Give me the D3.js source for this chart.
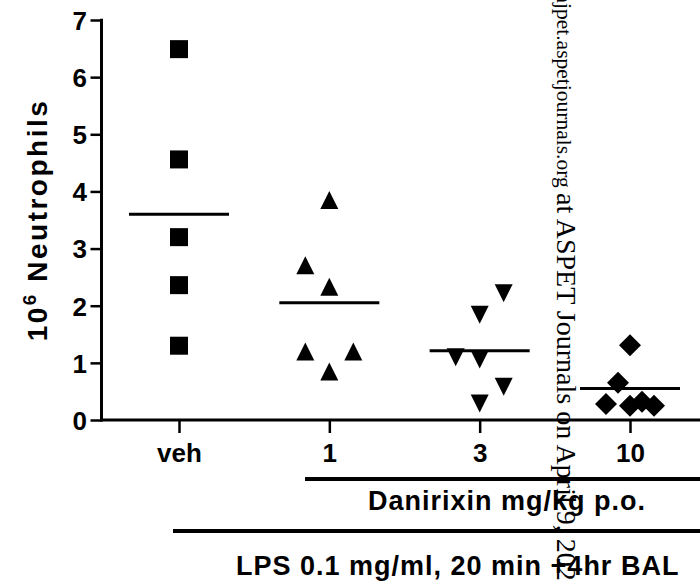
<!DOCTYPE html>
<html><head><meta charset="utf-8">
<script src="https://cdn.jsdelivr.net/npm/d3@7"></script>
<style>
html,body{margin:0;padding:0;background:#fff;}
svg{display:block;}
text{font-family:"Liberation Sans",Arial,sans-serif;font-weight:bold;fill:#000;}
</style></head>
<body>
<script>
const categories = ["veh", "1", "3", "10"];
const vehValues = [6.49, 4.56, 3.20, 2.36, 1.30];
const dose1Values = [3.85, 2.71, 2.33, 1.20, 1.20, 0.85];
const dose3Values = [2.22, 1.84, 1.10, 1.06, 0.58, 0.29];
const dose10Values = [1.31, 0.65, 0.28, 0.25, 0.32, 0.25];
const vehJitter = [0, 0, 0, 0, 0];
const dose1Jitter = [0, -1, 0, -1, 1, 0];
const dose3Jitter = [1, 0, -1, 0, 1, 0];
const dose10Jitter = [0, -0.5, -1, 0, 0.5, 1];
const groupMeans = [3.60, 2.05, 1.21, 0.55];
const yTicks = [0, 1, 2, 3, 4, 5, 6, 7];
const yLabel = "Neutrophils";
const doseLabel = "Danirixin mg/kg p.o.";
const lpsLabel = "LPS 0.1 mg/ml, 20 min +4hr BAL";
const watermarkLead = "Downloaded from ";
const watermarkSite = "jpet.aspetjournals.org ";
const watermarkTail = "at ASPET Journals on April 9, 2024";

const groups = [
  {cat: "veh", values: vehValues, jitter: vehJitter, shape: "square"},
  {cat: "1", values: dose1Values, jitter: dose1Jitter, shape: "up"},
  {cat: "3", values: dose3Values, jitter: dose3Jitter, shape: "down"},
  {cat: "10", values: dose10Values, jitter: dose10Jitter, shape: "diamond"}
];

const W = 700, H = 581;
const axX = 101.5, axY = 420;
const svg = d3.select("body").append("svg").attr("width", W).attr("height", H);

const y = d3.scaleLinear().domain([0, 7]).range([axY, 20]);
const x = d3.scalePoint().domain(categories).range([179, 630]);
const jit = 24;

// axes
const yAxis = svg.append("g").attr("transform", `translate(${axX},0)`)
  .call(d3.axisLeft(y).tickValues(yTicks).tickSize(11).tickSizeOuter(0).tickFormat(d3.format("d")));
yAxis.select(".domain").remove();
yAxis.selectAll(".tick line").attr("stroke", "#000").attr("stroke-width", 2.5);
yAxis.selectAll(".tick text").attr("font-size", 26).attr("x", -14.5).attr("dy", "0.36em");

const xAxis = svg.append("g").attr("transform", `translate(0,${axY})`)
  .call(d3.axisBottom(x).tickSize(13).tickSizeOuter(0));
xAxis.select(".domain").remove();
xAxis.selectAll(".tick line").attr("stroke", "#000").attr("stroke-width", 2.5);
xAxis.selectAll(".tick text").attr("font-size", 26).attr("y", 42).attr("dy", 0);

svg.append("line").attr("x1", axX).attr("x2", axX).attr("y1", y(7) - 1.2).attr("y2", axY + 1.5)
  .attr("stroke", "#000").attr("stroke-width", 3);
svg.append("line").attr("x1", axX - 1.5).attr("x2", W).attr("y1", axY).attr("y2", axY)
  .attr("stroke", "#000").attr("stroke-width", 3);

// y label
const yl = svg.append("text").attr("transform", `translate(47,${220}) rotate(-90)`)
  .attr("text-anchor", "middle").attr("font-size", 28).style("letter-spacing", "2.5px");
yl.append("tspan").text("10");
yl.append("tspan").attr("font-size", 19).attr("dy", -11).text("6");
yl.append("tspan").attr("dy", 11).text(" " + yLabel);

// markers
const shapes = {
  square: "M-9,-9H9V9H-9Z",
  up: "M0,-9L9,9H-9Z",
  down: "M0,9L9,-9H-9Z",
  diamond: "M0,-11L11,0L0,11L-11,0Z"
};
groups.forEach(g => {
  svg.append("g").selectAll("path").data(g.values).join("path")
    .attr("d", shapes[g.shape])
    .attr("transform", (v, i) => `translate(${x(g.cat) + g.jitter[i] * jit},${y(v)})`)
    .attr("fill", "#000");
});

// mean lines
svg.append("g").selectAll("line").data(groupMeans).join("line")
  .attr("x1", (m, i) => x(categories[i]) - 50)
  .attr("x2", (m, i) => x(categories[i]) + 50)
  .attr("y1", m => y(m)).attr("y2", m => y(m))
  .attr("stroke", "#000").attr("stroke-width", 3);

// bottom bars and labels
svg.append("line").attr("x1", 305).attr("x2", W).attr("y1", 479).attr("y2", 479)
  .attr("stroke", "#000").attr("stroke-width", 4);
svg.append("text").attr("x", 368).attr("y", 510)
  .attr("font-size", 27).style("letter-spacing", "1px").text(doseLabel);
svg.append("line").attr("x1", 173).attr("x2", W).attr("y1", 531).attr("y2", 531)
  .attr("stroke", "#000").attr("stroke-width", 4);
svg.append("text").attr("x", 236).attr("y", 575)
  .attr("font-size", 27).style("letter-spacing", "1px").text(lpsLabel);

// watermark
const wmFont = "'Liberation Serif','Times New Roman',serif";
const wmX = 557;
svg.append("text").attr("transform", `translate(${wmX},3) rotate(90)`)
  .attr("text-anchor", "end")
  .style("font-family", wmFont).style("font-weight", "normal")
  .attr("font-size", 21.5).text(watermarkLead);
const wm = svg.append("text").attr("transform", `translate(${wmX},3) rotate(90)`)
  .style("font-family", wmFont).style("font-weight", "normal");
wm.append("tspan").attr("font-size", 21.5).text(watermarkSite);
wm.append("tspan").attr("font-size", 28).text(watermarkTail);
</script>
</body></html>
